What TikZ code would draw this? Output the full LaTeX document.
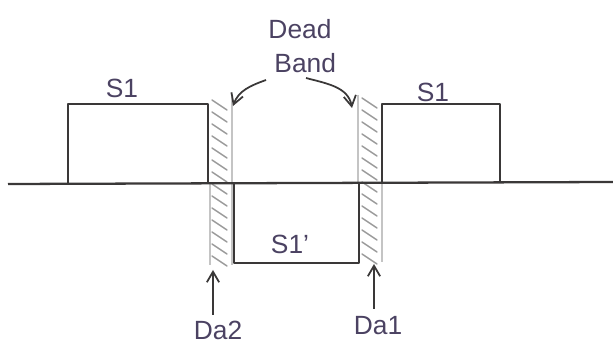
\documentclass[tikz,border=0pt]{standalone}
\usepackage{fontspec}
\setmainfont{Liberation Sans}
\usetikzlibrary{arrows.meta}
\definecolor{ink}{HTML}{3A3838}
\definecolor{pen}{HTML}{4B4262}
\definecolor{hatch}{HTML}{9A9A9A}
\definecolor{edge}{HTML}{C4C4C4}
\tikzset{
  sig/.style={draw=ink, line width=1.3pt, line join=round},
  hatchline/.style={draw=hatch, line width=0.8pt, line cap=round},
  bandedge/.style={draw=edge, line width=1pt},
  lab/.style={text=pen, font=\fontsize{15}{17}\selectfont, inner sep=1pt},
  arr/.style={draw=ink, line width=1pt, -{Straight Barb[length=6pt,width=7pt]}}
}
\begin{document}
\begin{tikzpicture}[x=0.02cm, y=-0.02cm]
\useasboundingbox (0,0) rectangle (613,361);
% band edges (light)
\draw[bandedge] (232,97) -- (232,265);
\draw[bandedge] (210,184) -- (210,265);
\draw[bandedge] (358,95) -- (358,184);
\draw[bandedge] (382,184) -- (382,262);
% hatching
\foreach \y in {100,112,...,256} {
  \draw[hatchline] (212,\y) -- (227,\y+10);
}
\foreach \y in {98,110,...,254} {
  \draw[hatchline] (362,\y) -- (377,\y+10);
}
% axis
\draw[sig] (8,184) -- (613,182);
% signal
\draw[sig] (68,184) -- (68,104) -- (208,104) -- (208,184);
\draw[sig] (234,184) -- (234,263) -- (359,263) -- (359,184);
\draw[sig] (382,184) -- (382,104) -- (500,104) -- (500,183);
% labels
\node[lab] (s1a) at (122,88) {S1};
\node[lab] (s1b) at (433,92) {S1};
\node[lab] (s1c) at (290,244) {S1'};
\node[lab, align=center, font=\fontsize{15}{19}\selectfont] (db) at (300,46) {Dead\\\hspace*{0.4em}Band};
\coordinate (t1) at (233,106);
\coordinate (t2) at (352,108);
\draw[arr] (266,80) to[out=200,in=70] (t1);
\draw[arr] (306,78) to[out=-15,in=100] (t2);
\node[lab] (da2) at (218,330) {Da2};
\node[lab] (da1) at (378,326) {Da1};
\coordinate (u2) at (213,270);
\coordinate (u1) at (374,264);
\draw[arr] (da2.north -| u2) ++(0,-4) -- (u2);
\draw[arr] (da1.north -| u1) ++(0,-6) -- (u1);
\end{tikzpicture}
\end{document}
